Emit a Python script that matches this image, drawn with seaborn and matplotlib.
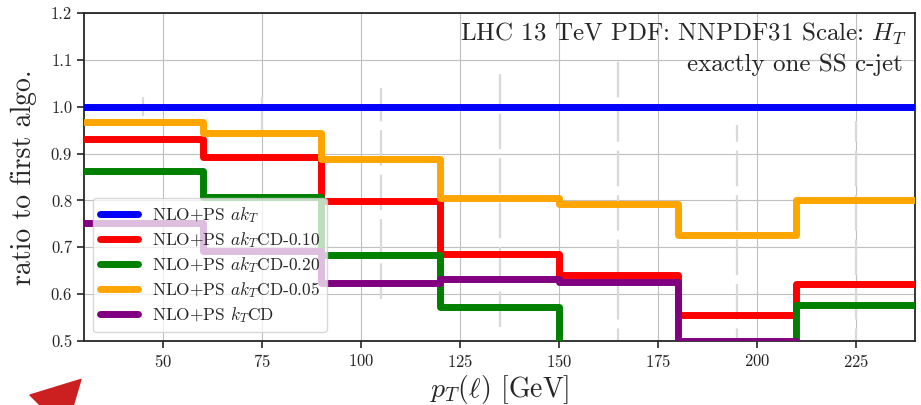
import numpy as np
import pandas as pd
import matplotlib
matplotlib.use("Agg")
import matplotlib.pyplot as plt
import seaborn as sns

# bin edges in pT(l) [GeV] and ratio per bin (last value repeated for steps-post)
bin_edges = [30, 60, 90, 120, 150, 180, 210, 240]
bin_centers = [45, 75, 105, 135, 165, 195, 225]

akt = [1.0, 1.0, 1.0, 1.0, 1.0, 1.0, 1.0]
aktcd_010 = [0.931, 0.892, 0.799, 0.685, 0.640, 0.556, 0.622]
aktcd_020 = [0.862, 0.807, 0.683, 0.573, 0.48, 0.47, 0.577]
aktcd_005 = [0.968, 0.944, 0.889, 0.805, 0.792, 0.727, 0.800]
ktcd = [0.751, 0.691, 0.623, 0.632, 0.625, 0.500, 0.47]

labels = [r'NLO+PS $ak_T$', r'NLO+PS $ak_T$CD-0.10', r'NLO+PS $ak_T$CD-0.20',
          r'NLO+PS $ak_T$CD-0.05', r'NLO+PS $k_T$CD']
colors = ['blue', 'red', 'green', 'orange', 'purple']

# faint uncertainty bars at bin centres
err_hi = [1.02, 1.02, 1.04, 1.07, 1.10, 0.96, 0.97]
err_lo = [0.98, 0.95, 0.59, 0.53, 0.45, 0.45, 0.45]

# -------------
# long-form table
# -------------
rows = []
for lab, vals in zip(labels, [akt, aktcd_010, aktcd_020, aktcd_005, ktcd]):
    for x, v in zip(bin_edges, vals + [vals[-1]]):
        rows.append({'pt': x, 'ratio': v, 'algo': lab})
df = pd.DataFrame(rows)

sns.set_style("whitegrid", {'axes.edgecolor': '0.15', 'grid.color': '0.75',
                            'xtick.bottom': True, 'ytick.left': True})
plt.rcParams['font.family'] = 'serif'
plt.rcParams['font.serif'] = ['cmr10', 'DejaVu Serif']
plt.rcParams['mathtext.fontset'] = 'cm'
plt.rcParams['axes.formatter.use_mathtext'] = True
plt.rcParams['axes.unicode_minus'] = False

fig, ax = plt.subplots(figsize=(9.21, 4.05), dpi=100)
fig.subplots_adjust(left=0.0912, right=0.9935, bottom=0.158, top=0.968)

ax.vlines(bin_centers, err_lo, err_hi, colors='0.85', linewidth=1.6,
          linestyles=(0, (16, 4)), zorder=1)

sns.lineplot(data=df, x='pt', y='ratio', hue='algo', hue_order=labels,
             palette=colors, drawstyle='steps-post', linewidth=5,
             estimator=None, sort=True, ax=ax, zorder=3)
for line in ax.get_lines():
    line.set_solid_joinstyle('round')

ax.set_xlim(30, 240)
ax.set_ylim(0.5, 1.2)
ax.set_xticks([50, 75, 100, 125, 150, 175, 200, 225])
ax.set_yticks(np.arange(0.5, 1.21, 0.1))
ax.set_yticklabels([f'{t:.1f}' for t in np.arange(0.5, 1.21, 0.1)])
ax.tick_params(labelsize=12, length=5, width=1.2, color='0.15')
ax.set_xlabel(r'$p_T(\ell)$ [GeV]', fontsize=20, labelpad=2)
ax.set_ylabel('ratio to first algo.', fontsize=20, labelpad=10)
for s in ax.spines.values():
    s.set_linewidth(1.3)

ax.text(0.99, 0.975, r'LHC 13 TeV PDF: NNPDF31 Scale: $H_T$', transform=ax.transAxes,
        ha='right', va='top', fontsize=18)
ax.text(0.985, 0.875, 'exactly one SS c-jet', transform=ax.transAxes,
        ha='right', va='top', fontsize=18)

leg = ax.legend(loc='lower left', fontsize=12.5, handlelength=2.2,
                labelspacing=0.3, framealpha=0.75, borderaxespad=0.5)
for h in leg.get_lines():
    h.set_linewidth(5)

# red pointer arrow at the bottom left of the picture
fig.patches.append(matplotlib.patches.FancyArrowPatch(
    (0.03, -0.07), (0.09, 0.068), transform=fig.transFigure,
    arrowstyle='simple,head_length=1.3,head_width=1.4,tail_width=0.5',
    mutation_scale=26, color='#cc2020'))

plt.savefig('out.png', dpi=100)
